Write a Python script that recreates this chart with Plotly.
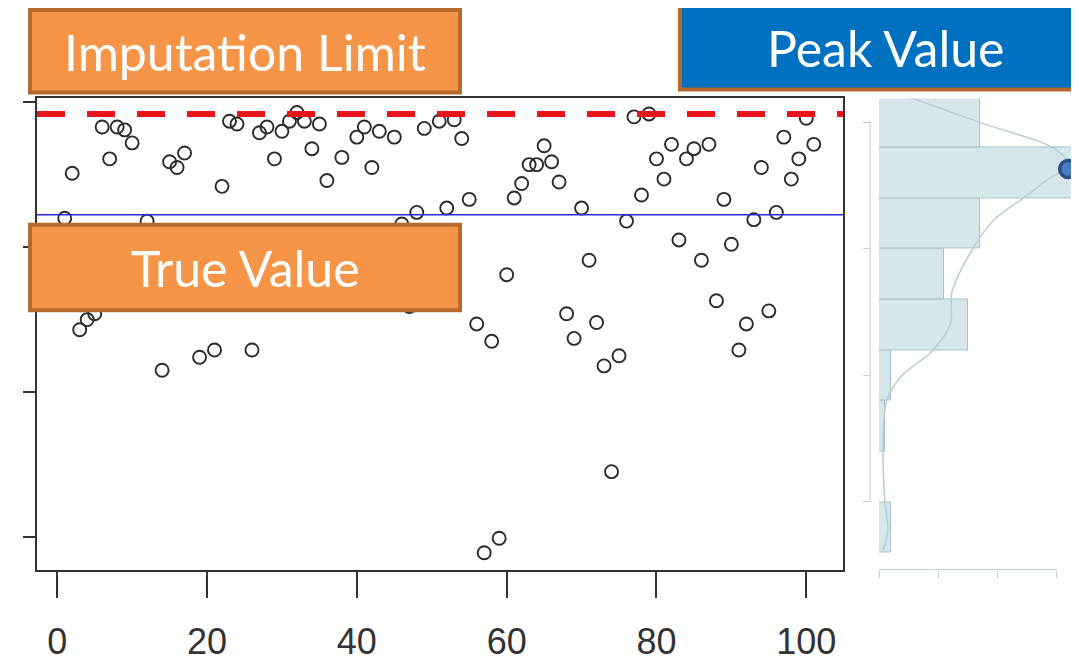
import plotly.graph_objects as go

# the page puts the figure 8px in from the top-left corner
OFFSET = 8
W, H = 1079 - OFFSET, 662 - OFFSET

# scatter: observation index vs. value (y axis labels are cropped in the original)
obs_index = list(range(1, 102))
obs_value = [
    2.20, 2.51, 1.43, 1.50, 1.54, 2.83, 2.61, 2.83, 2.81, 2.72,
    1.92, 2.18, 1.72, 1.15, 2.59, 2.55, 2.65, 1.99, 1.24, 1.82,
    1.29, 2.42, 2.87, 2.85, 1.89, 1.29, 2.79, 2.83, 2.61, 2.80,
    2.87, 2.93, 2.87, 2.68, 2.85, 2.46, 2.06, 2.62, 1.75, 2.76,
    2.83, 2.55, 2.80, 1.85, 2.76, 2.16, 1.59, 2.24, 2.82, 1.96,
    2.87, 2.27, 2.88, 2.75, 2.33, 1.47, -0.11, 1.35, -0.01, 1.81,
    2.34, 2.44, 2.57, 2.57, 2.70, 2.59, 2.45, 1.54, 1.37, 2.27,
    1.91, 1.48, 1.18, 0.45, 1.25, 2.18, 2.90, 2.36, 2.92, 2.61,
    2.47, 2.71, 2.05, 2.61, 2.68, 1.91, 2.71, 1.63, 2.33, 2.02,
    1.29, 1.47, 2.19, 2.55, 1.56, 2.24, 2.76, 2.47, 2.61, 2.89,
    2.71,
]
imputation_limit = 2.92
true_value = 2.224

x_ticks = [0, 20, 40, 60, 80, 100]
y_ticks = [0, 1, 2, 3]

# side histogram (separate scale), bins bottom -> top
bin_centers = [-1, 1, 3, 5, 7, 9, 11, 13, 15]
bin_counts = [2, 0, 1, 2, 15, 11, 17, 36, 17]
hist_value_ticks = [0, 5, 10, 15]
hist_count_ticks = [0, 10, 20, 30]

# density curve over the histogram
dens_value = [16.2, 15.0, 13.9, 13.3, 12.8, 12.0, 11.1, 9.6, 8.3, 7.0, 6.0, 4.9, 4.0, 2.0, 0.0, -1.1, -1.9]
dens_count = [2.7, 17.0, 30.0, 31.9, 28.8, 24.3, 19.2, 14.8, 12.3, 12.0, 9.1, 3.5, 1.3, 0.7, 1.0, 1.5, 0.7]

peak_count = [31.9]
peak_value = [13.16]


def px_x(p):
    return (p - OFFSET) / W


def px_y(p):
    return 1 - (p - OFFSET) / H


fig = go.Figure()

fig.add_trace(go.Scatter(
    x=obs_index, y=obs_value, mode="markers",
    marker=dict(symbol="circle-open", size=13, color="#2b2b2b", line=dict(width=1.9)),
    xaxis="x", yaxis="y", showlegend=False,
))

fig.add_trace(go.Bar(
    x=bin_counts, y=bin_centers, orientation="h", width=2,
    marker=dict(color="#d7e6eb", line=dict(color="#a9c0c7", width=1)),
    xaxis="x2", yaxis="y2", showlegend=False,
))

fig.add_trace(go.Scatter(
    x=dens_count, y=dens_value, mode="lines", line=dict(color="#b9cdd3", width=1.5, shape="spline"),
    xaxis="x2", yaxis="y2", showlegend=False,
))

fig.add_trace(go.Scatter(
    x=peak_count, y=peak_value, mode="markers",
    marker=dict(size=17, color="#4a7cc0", line=dict(color="#2c4f88", width=3.5)),
    xaxis="x2", yaxis="y2", showlegend=False, cliponaxis=False,
))

frame = dict(showline=True, linecolor="#333333", linewidth=2, mirror=True,
             showgrid=False, zeroline=False, ticks="outside", tickcolor="#333333")

fig.update_layout(
    width=W, height=H,
    margin=dict(l=0, r=0, t=0, b=0),
    paper_bgcolor="white", plot_bgcolor="white",
    xaxis=dict(
        domain=[px_x(37), px_x(843)], range=[-2.7, 104.9], anchor="y",
        tickvals=x_ticks, ticklen=26, tickwidth=1.5,
        tickfont=dict(family="Liberation Sans Narrow, Liberation Sans, Arial", size=36, color="#333333"),
        ticklabelstandoff=13, **frame,
    ),
    yaxis=dict(
        domain=[px_y(573), px_y(99)], range=[-0.226, 3.027], anchor="x",
        tickvals=y_ticks, ticklen=12, tickwidth=1.5, showticklabels=False, **frame,
    ),
    xaxis2=dict(
        domain=[px_x(879), 1], range=[0, 200 / 5.93], anchor="free", position=px_y(573),
        tickvals=hist_count_ticks, ticks="outside", ticklen=7, tickcolor="#c4d2d7",
        showticklabels=False, showgrid=False, zeroline=False, showline=False,
    ),
    yaxis2=dict(
        domain=[px_y(573), px_y(99)], range=[(505 - 573) / 25.46, (505 - 99) / 25.46],
        anchor="free", position=px_x(870),
        tickvals=hist_value_ticks, ticks="outside", ticklen=7, tickcolor="#c4d2d7",
        showticklabels=False, showgrid=False, zeroline=False, showline=False,
    ),
    bargap=0,
)

# reference lines
fig.add_shape(type="line", xref="x domain", yref="y", x0=0, x1=1, y0=imputation_limit, y1=imputation_limit,
              line=dict(color="#e8141c", width=6, dash="28px,22px"))
fig.add_shape(type="line", xref="x domain", yref="y", x0=0, x1=1, y0=true_value, y1=true_value,
              line=dict(color="#2b2bd9", width=1.5))

# histogram axis lines (span first to last tick)
fig.add_shape(type="line", xref="paper", yref="y2", x0=px_x(870), x1=px_x(870),
              y0=hist_value_ticks[0], y1=hist_value_ticks[-1], line=dict(color="#c4d2d7", width=1.2))
fig.add_shape(type="line", xref="x2", yref="paper", x0=hist_count_ticks[0], x1=hist_count_ticks[-1],
              y0=px_y(573), y1=px_y(573), line=dict(color="#c4d2d7", width=1.2))

# callout boxes
boxes = [
    ("Imputation Limit", 30, 10, 460, 93, "#f69547", "#b86a2e", 245),
    ("True Value", 30, 226, 460, 312, "#f69547", "#b86a2e", 245),
    ("Peak Value", 680, 5, 1090, 90, "#0070c0", "#b86a2e", 885),
]
for text, x0, y0, x1, y1, fill, edge, cx in boxes:
    fig.add_shape(type="rect", xref="paper", yref="paper",
                  x0=px_x(x0), x1=px_x(x1), y0=px_y(y1), y1=px_y(y0),
                  fillcolor=fill, line=dict(color=edge, width=4), layer="above")
    fig.add_annotation(text=text, xref="paper", yref="paper",
                       x=px_x(cx), y=px_y((y0 + y1) / 2 + 1), xanchor="center", yanchor="middle",
                       showarrow=False, font=dict(family="Lato, Open Sans", size=50, color="white"))

fig.write_html("out.html")
